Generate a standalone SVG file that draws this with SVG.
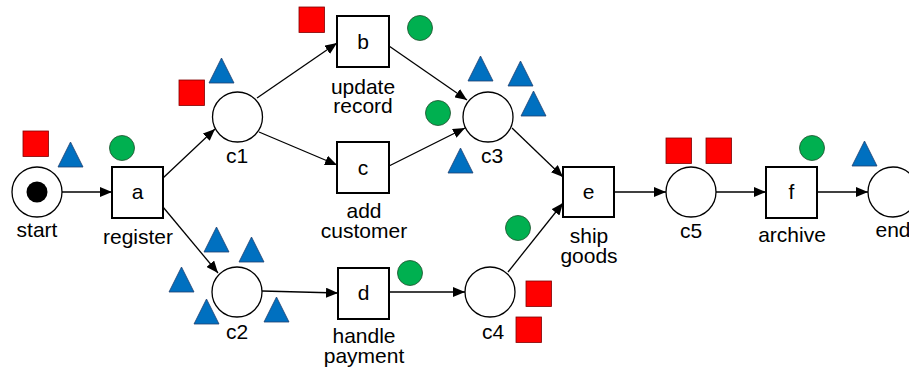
<svg xmlns="http://www.w3.org/2000/svg" xmlns:xlink="http://www.w3.org/1999/xlink" width="909" height="376" viewBox="0 0 909 376">
<style>
.place{fill:#fff;stroke:#000;stroke-width:1.3}
.trans{fill:#fff;stroke:#000;stroke-width:2}
.lbl{font-family:"Liberation Sans",Arial,sans-serif;font-size:21px;fill:#000;text-anchor:middle}
.arc{fill:none;stroke:#000;stroke-width:1.3;marker-end:url(#ah)}
.red{fill:#ff0000;stroke:#800000;stroke-width:0.8}
.blue{fill:#0070c0;stroke:#1f3f6e;stroke-width:0.8}
.green{fill:#00b050;stroke:#1e4d2b;stroke-width:0.8}
</style>
<defs>
<marker id="ah" markerUnits="userSpaceOnUse" markerWidth="12" markerHeight="10" refX="12" refY="5" orient="auto">
<path d="M0,0 L12,5 L0,10 z" fill="#000"/>
</marker>
<path id="tri" class="blue" d="M12.5,0 L25,25 L0,25 z"/>
<rect id="sq" class="red" width="25.5" height="25.5"/>
<circle id="dot" class="green" r="12.5"/>
</defs>

<g id="connectors">
<line class="arc" x1="62" y1="192" x2="112" y2="192"/>
<line class="arc" x1="163" y1="178" x2="215" y2="129"/>
<line class="arc" x1="163" y1="207" x2="218" y2="273"/>
<line class="arc" x1="257" y1="98" x2="337" y2="43"/>
<line class="arc" x1="259" y1="132" x2="337" y2="165"/>
<line class="arc" x1="389" y1="46" x2="467" y2="100"/>
<line class="arc" x1="389" y1="166" x2="465" y2="128"/>
<line class="arc" x1="262" y1="291" x2="338" y2="293"/>
<line class="arc" x1="389" y1="292" x2="465" y2="292"/>
<line class="arc" x1="512" y1="128" x2="563" y2="177"/>
<line class="arc" x1="508" y1="272" x2="563" y2="203"/>
<line class="arc" x1="614" y1="192" x2="666" y2="192"/>
<line class="arc" x1="716" y1="192" x2="766" y2="192"/>
<line class="arc" x1="817" y1="192" x2="868" y2="192"/>
</g>

<g id="start">
<circle class="place" cx="37" cy="192" r="25"/>
<circle cx="37" cy="192" r="10.5" fill="#000"/>
<text class="lbl" x="37" y="237">start</text>
</g>
<g id="c1">
<circle class="place" cx="237.5" cy="117" r="25"/>
<text class="lbl" x="237" y="163">c1</text>
</g>
<g id="c2">
<circle class="place" cx="237" cy="292" r="25"/>
<text class="lbl" x="237" y="339">c2</text>
</g>
<g id="c3">
<circle class="place" cx="488" cy="117" r="25"/>
<text class="lbl" x="492" y="163">c3</text>
</g>
<g id="c4">
<circle class="place" cx="490" cy="292" r="25"/>
<text class="lbl" x="493" y="339">c4</text>
</g>
<g id="c5">
<circle class="place" cx="691" cy="192" r="25"/>
<text class="lbl" x="691" y="238">c5</text>
</g>
<g id="end">
<circle class="place" cx="893" cy="192" r="25"/>
<text class="lbl" x="893" y="237">end</text>
</g>

<g id="a">
<rect class="trans" x="112" y="167" width="51" height="51"/>
<text class="lbl" x="137.5" y="199">a</text>
<text class="lbl" x="138" y="244">register</text>
</g>
<g id="b">
<rect class="trans" x="337" y="16" width="52" height="51"/>
<text class="lbl" x="363" y="49">b</text>
<text class="lbl" x="363" y="94">update</text>
<text class="lbl" x="363" y="113">record</text>
</g>
<g id="c">
<rect class="trans" x="337" y="142" width="52" height="51"/>
<text class="lbl" x="363" y="175">c</text>
<text class="lbl" x="364" y="218">add</text>
<text class="lbl" x="364" y="238">customer</text>
</g>
<g id="d">
<rect class="trans" x="338" y="268" width="51" height="51"/>
<text class="lbl" x="363.5" y="300">d</text>
<text class="lbl" x="364" y="343">handle</text>
<text class="lbl" x="364" y="363">payment</text>
</g>
<g id="e">
<rect class="trans" x="563" y="167" width="51" height="50"/>
<text class="lbl" x="588.5" y="199">e</text>
<text class="lbl" x="589" y="243">ship</text>
<text class="lbl" x="589" y="263">goods</text>
</g>
<g id="f">
<rect class="trans" x="766" y="167" width="51" height="51"/>
<text class="lbl" x="791.5" y="199">f</text>
<text class="lbl" x="792" y="242">archive</text>
</g>

<g id="tokens">
<use xlink:href="#sq" x="23" y="131"/>
<use xlink:href="#sq" x="179" y="80"/>
<use xlink:href="#sq" x="299" y="7"/>
<use xlink:href="#sq" x="526" y="281"/>
<use xlink:href="#sq" x="516" y="317"/>
<use xlink:href="#sq" x="666" y="138"/>
<use xlink:href="#sq" x="706" y="138"/>
<use xlink:href="#tri" x="58" y="142"/>
<use xlink:href="#tri" x="209" y="58"/>
<use xlink:href="#tri" x="468" y="56"/>
<use xlink:href="#tri" x="508" y="61"/>
<use xlink:href="#tri" x="521" y="91"/>
<use xlink:href="#tri" x="448" y="148"/>
<use xlink:href="#tri" x="204" y="227"/>
<use xlink:href="#tri" x="239" y="237"/>
<use xlink:href="#tri" x="169" y="267"/>
<use xlink:href="#tri" x="194" y="299"/>
<use xlink:href="#tri" x="264" y="297"/>
<use xlink:href="#tri" x="852" y="141"/>
<use xlink:href="#dot" x="122" y="148"/>
<use xlink:href="#dot" x="420" y="28"/>
<use xlink:href="#dot" x="438" y="113"/>
<use xlink:href="#dot" x="518" y="228"/>
<use xlink:href="#dot" x="410" y="273"/>
<use xlink:href="#dot" x="812" y="148"/>
</g>
</svg>
